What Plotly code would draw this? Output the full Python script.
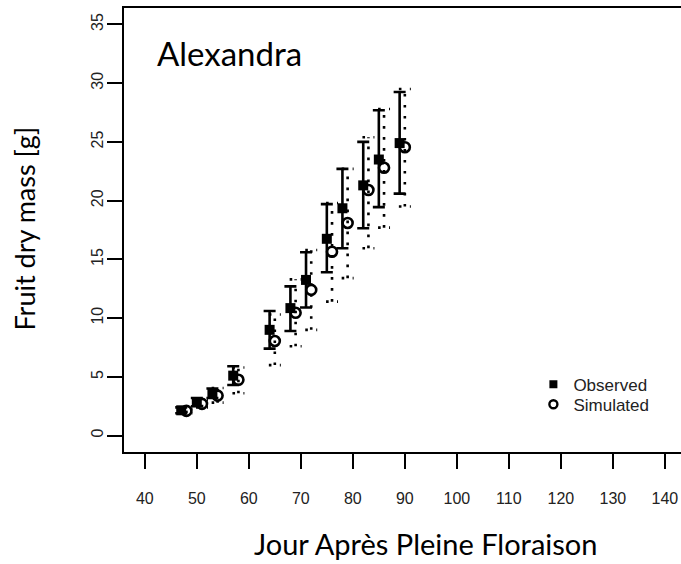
import plotly.graph_objects as go

# ---- data ----
days_obs = [47, 50, 53, 57, 64, 68, 71, 75, 78, 82, 85, 89]
mass_obs = [2.15, 2.85, 3.6, 5.1, 9.0, 10.85, 13.25, 16.75, 19.35, 21.3, 23.5, 24.9]
obs_lo = [1.9, 2.5, 3.2, 4.3, 7.4, 8.9, 10.9, 13.9, 15.95, 17.65, 19.45, 20.6]
obs_hi = [2.4, 3.2, 4.0, 5.9, 10.6, 12.7, 15.6, 19.7, 22.7, 25.0, 27.7, 29.25]

days_sim = [48, 51, 54, 58, 65, 69, 72, 76, 79, 83, 86, 90]
mass_sim = [2.1, 2.7, 3.4, 4.75, 8.05, 10.45, 12.4, 15.65, 18.1, 20.9, 22.8, 24.55]
sim_lo = [1.9, 2.4, 2.8, 3.6, 6.0, 7.6, 9.0, 11.4, 13.4, 15.95, 17.7, 19.5]
sim_hi = [2.3, 3.0, 4.05, 5.8, 10.3, 13.3, 15.8, 19.8, 22.7, 25.4, 27.8, 29.5]

x_ticks = [40, 50, 60, 70, 80, 90, 100, 110, 120, 130, 140]
y_ticks = [0, 5, 10, 15, 20, 25, 30, 35]

CAP = 1.15  # half cap width in data units

# dotted error bars for simulated values (segments built from the data)
ex, ey = [], []
for d, lo, hi in zip(days_sim, sim_lo, sim_hi):
    ex += [d, d, None, d - CAP, d + CAP, None, d - CAP, d + CAP, None]
    ey += [lo, hi, None, lo, lo, None, hi, hi, None]

fig = go.Figure()

fig.add_trace(go.Scatter(
    x=ex, y=ey, mode="lines", showlegend=False, hoverinfo="skip",
    line=dict(color="black", width=2.6, dash="2.6px,8.4px"),
))

fig.add_trace(go.Scatter(
    x=days_obs, y=mass_obs, mode="markers", showlegend=False,
    marker=dict(symbol="square", size=10, color="black"),
    error_y=dict(type="data", symmetric=False,
                 array=[h - m for h, m in zip(obs_hi, mass_obs)],
                 arrayminus=[m - l for m, l in zip(mass_obs, obs_lo)],
                 color="black", thickness=2.6, width=6),
))

fig.add_trace(go.Scatter(
    x=days_sim, y=mass_sim, mode="markers", showlegend=False,
    marker=dict(symbol="circle-open", size=10, color="black",
                line=dict(width=2.6, color="black")),
))

# legend entries (two legends so their spacing can match the reference)
fig.add_trace(go.Scatter(x=[None], y=[None], mode="markers", name="Observed",
                         legend="legend",
                         marker=dict(symbol="square", size=8, color="black")))
fig.add_trace(go.Scatter(x=[None], y=[None], mode="markers", name="Simulated",
                         legend="legend2",
                         marker=dict(symbol="circle-open", size=8, color="black",
                                     line=dict(width=2.4, color="black"))))

tickfont = dict(family="Liberation Sans, Arial, sans-serif", size=16, color="#222")
legfont = dict(family="Liberation Sans, Arial, sans-serif", size=17, color="#222")

fig.update_layout(
    width=681, height=564,
    margin=dict(l=124, r=0, t=8, b=112),
    paper_bgcolor="white", plot_bgcolor="white",
    showlegend=True,
    legend=dict(x=0.735, y=0.1515, xanchor="left", yanchor="middle",
                font=legfont, bgcolor="rgba(0,0,0,0)"),
    legend2=dict(x=0.735, y=0.1065, xanchor="left", yanchor="middle",
                 font=legfont, bgcolor="rgba(0,0,0,0)"),
    xaxis=dict(range=[36, 143.1], tickvals=x_ticks, ticktext=[str(v) for v in x_ticks],
               showgrid=False, zeroline=False, showline=True, linewidth=2,
               linecolor="black", mirror=True, ticks="outside", ticklen=15,
               tickwidth=2, tickcolor="black", tickfont=tickfont,
               ticklabelstandoff=16),
    yaxis=dict(range=[-1.4, 36.4], tickvals=y_ticks, ticktext=[str(v) for v in y_ticks],
               showgrid=False, zeroline=False, showline=True, linewidth=2,
               linecolor="black", mirror=False, ticks="outside", ticklen=15,
               tickwidth=2, tickcolor="black", tickfont=tickfont, tickangle=-90,
               ticklabelstandoff=-2),
    annotations=[
        dict(text="Alexandra", xref="paper", yref="paper", x=0.0555, y=0.899,
             xanchor="left", yanchor="middle", showarrow=False,
             font=dict(family="Lato, sans-serif", size=33, color="black")),
        dict(text="Jour Après Pleine Floraison", xref="paper", yref="paper",
             x=0.542, y=-0.2065, xanchor="center", yanchor="middle", showarrow=False,
             font=dict(family="Lato, sans-serif", size=29, color="black")),
        dict(text="Fruit dry mass [g]", xref="paper", yref="paper",
             x=-0.178, y=0.503, xanchor="center", yanchor="middle", showarrow=False,
             textangle=-90,
             font=dict(family="Lato, sans-serif", size=27, color="black")),
    ],
)

fig.write_html("out.html")
